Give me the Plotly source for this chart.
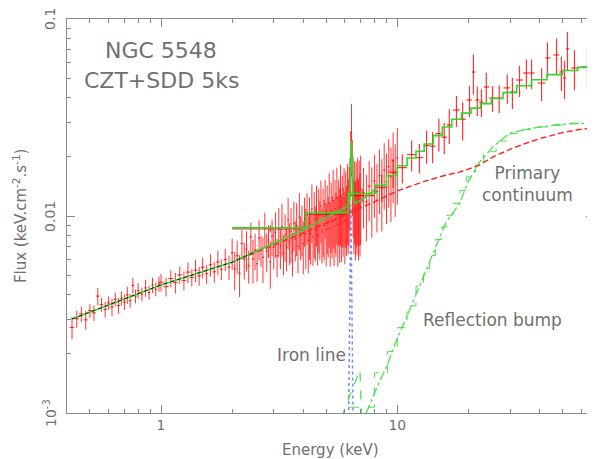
import math
import plotly.graph_objects as go

# ---------------- data ----------------
# SDD fine-binned spectrum, 0.42 - 1 keV
E_lo = [0.42, 0.44, 0.46, 0.48, 0.50, 0.52, 0.54, 0.56, 0.58, 0.60, 0.62, 0.64, 0.66,
        0.68, 0.70, 0.72, 0.74, 0.76, 0.78, 0.80, 0.83, 0.86, 0.89, 0.92, 0.95, 0.98]
F_lo = [0.00272, 0.00301, 0.00318, 0.00297, 0.00331, 0.00322, 0.00392, 0.00355, 0.00336,
        0.00362, 0.00345, 0.00378, 0.00351, 0.00383, 0.00366, 0.00398, 0.00372, 0.00445,
        0.00392, 0.00418, 0.00401, 0.00432, 0.00409, 0.00446, 0.00425, 0.00452]
R_lo = [0.13, 0.10, 0.09, 0.11, 0.08, 0.09, 0.10, 0.08, 0.09, 0.08, 0.10, 0.08, 0.09,
        0.08, 0.09, 0.10, 0.08, 0.09, 0.08, 0.09, 0.08, 0.10, 0.08, 0.09, 0.08, 0.09]
W_lo = 0.01

# SDD, 1 - 2 keV
E_md = [1.00, 1.05, 1.10, 1.15, 1.20, 1.25, 1.30, 1.35, 1.40, 1.45, 1.50, 1.56, 1.62,
        1.68, 1.74, 1.80, 1.87, 1.94]
F_md = [0.00461, 0.00438, 0.00482, 0.00459, 0.00503, 0.00471, 0.00519, 0.00488, 0.00531,
        0.00497, 0.00548, 0.00509, 0.00566, 0.00521, 0.00584, 0.00538, 0.00602, 0.00551]
R_md = [0.10, 0.11, 0.10, 0.12, 0.10, 0.11, 0.12, 0.10, 0.13, 0.11, 0.12, 0.11, 0.13,
        0.12, 0.14, 0.12, 0.13, 0.14]
W_md = 0.028

# SDD, 2 - 7 keV (dense region incl. Fe line)
E_fe = [2.00, 2.05, 2.10, 2.15, 2.20, 2.25, 2.30, 2.35, 2.40, 2.45, 2.50, 2.55, 2.60, 2.65,
        2.70, 2.75, 2.80, 2.85, 2.90, 2.95, 3.00, 3.05, 3.10, 3.15, 3.20, 3.25, 3.30, 3.35,
        3.40, 3.45, 3.50, 3.55, 3.60, 3.65, 3.70, 3.75, 3.80, 3.85, 3.90, 3.95, 4.00, 4.05,
        4.10, 4.15, 4.20, 4.25, 4.30, 4.35, 4.40, 4.45, 4.50, 4.55, 4.60, 4.65, 4.70, 4.75,
        4.80, 4.85, 4.90, 4.95, 5.00, 5.05, 5.10, 5.15, 5.20, 5.25, 5.30, 5.35, 5.40, 5.45,
        5.50, 5.55, 5.60, 5.65, 5.70, 5.75, 5.80, 5.85, 5.90, 5.95, 6.00, 6.05, 6.10, 6.15,
        6.20, 6.25, 6.30, 6.35, 6.40, 6.45, 6.50, 6.55, 6.60, 6.65, 6.70, 6.75, 6.80, 6.85,
        6.90, 6.95, 7.00]
F_fe = [0.00651, 0.00538, 0.00629, 0.00510, 0.00725, 0.00603, 0.00679, 0.00560, 0.00784,
        0.00605, 0.00671, 0.00572, 0.00773, 0.00672, 0.00617, 0.00866, 0.00664, 0.00755,
        0.00585, 0.00792, 0.00697, 0.00828, 0.00628, 0.00857, 0.00706, 0.00887, 0.00649,
        0.00801, 0.00698, 0.00955, 0.00742, 0.00835, 0.00657, 0.00920, 0.00764, 0.00893,
        0.00701, 0.00988, 0.00794, 0.00877, 0.00723, 0.00968, 0.00812, 0.01009, 0.00754,
        0.00919, 0.00810, 0.01085, 0.00786, 0.00964, 0.00853, 0.01061, 0.00800, 0.01011,
        0.00895, 0.01120, 0.00831, 0.00999, 0.00900, 0.01149, 0.00853, 0.01035, 0.00934,
        0.01169, 0.00864, 0.01062, 0.00936, 0.01198, 0.00886, 0.01088, 0.00969, 0.01237,
        0.00906, 0.01113, 0.00981, 0.01265, 0.00927, 0.01149, 0.01003, 0.01228, 0.00948,
        0.01186, 0.01024, 0.01275, 0.01090, 0.01240, 0.01400, 0.01980, 0.02650, 0.01720,
        0.01390, 0.01085, 0.01310, 0.01044, 0.01287, 0.01100, 0.01345, 0.01062, 0.01309,
        0.01130, 0.01368]
R_fe = [0.18, 0.22, 0.19, 0.24, 0.17, 0.21, 0.23, 0.19, 0.18, 0.25, 0.21, 0.19, 0.23, 0.18,
        0.26, 0.20, 0.22, 0.19, 0.27, 0.21,
        0.23, 0.26, 0.22, 0.28, 0.24, 0.30, 0.23, 0.27, 0.25, 0.29, 0.24, 0.31, 0.25, 0.28,
        0.23, 0.30, 0.27, 0.32, 0.25, 0.29,
        0.30, 0.28, 0.34, 0.29, 0.32, 0.35, 0.30, 0.33, 0.29, 0.37, 0.31, 0.34, 0.30, 0.36,
        0.33, 0.35, 0.31, 0.38, 0.34, 0.33,
        0.35, 0.38, 0.34, 0.41, 0.36, 0.39, 0.35, 0.43, 0.37, 0.40, 0.36, 0.42, 0.39, 0.37,
        0.41, 0.44, 0.37, 0.40, 0.38, 0.43,
        0.40, 0.42, 0.39, 0.44, 0.41, 0.43, 0.40, 0.36, 0.40, 0.42, 0.44, 0.41, 0.45, 0.43,
        0.46, 0.42, 0.47, 0.44, 0.46, 0.45, 0.48]
W_fe = 0.025

# SDD, 7 - 10 keV
E_hi = [7.2, 7.4, 7.6, 7.8, 8.0, 8.2, 8.4, 8.6, 8.8, 9.0, 9.2, 9.4, 9.6, 9.8, 10.0]
F_hi = [0.0131, 0.0118, 0.0142, 0.0127, 0.0151, 0.0133, 0.0160, 0.0139, 0.0171, 0.0149,
        0.0178, 0.0158, 0.0191, 0.0165, 0.0197]
R_hi = [0.34, 0.37, 0.34, 0.39, 0.35, 0.38, 0.36, 0.40, 0.37, 0.39, 0.38, 0.41, 0.39, 0.40, 0.42]
W_hi = 0.1

# CZT spectrum (wide bins)
E_czt = [2.9, 5.0, 7.1, 8.6, 9.6, 10.5, 11.5, 12.4, 13.3, 14.1, 15.0, 15.8, 16.6, 17.8, 18.9,
         20.2, 21.0, 21.8, 22.7, 23.8, 25.3, 27.0, 29.2, 30.7, 32.9, 35.2, 37.0, 40.8, 43.2,
         47.2, 49.5, 51.0, 52.5, 56.2, 63.8]
E_czt_lo = [2.0, 4.15, 6.3, 8.1, 9.1, 10.0, 11.0, 12.0, 12.9, 13.7, 14.5, 15.4, 16.2, 17.2,
            18.4, 19.6, 20.7, 21.4, 22.2, 23.2, 24.5, 26.2, 28.1, 30.0, 31.8, 34.1, 36.3,
            39.3, 42.3, 45.8, 48.5, 50.3, 51.8, 54.5, 60.0]
E_czt_hi = [4.0, 6.0, 8.0, 9.1, 10.0, 11.0, 12.0, 12.9, 13.7, 14.5, 15.4, 16.2, 17.1, 18.4,
            19.5, 20.7, 21.4, 22.2, 23.2, 24.5, 26.2, 28.0, 30.0, 31.6, 34.0, 36.2, 38.0,
            42.3, 44.5, 48.5, 50.3, 51.8, 53.5, 58.0, 68.0]
F_czt = [0.0086, 0.0102, 0.0127, 0.0140, 0.0167, 0.0176, 0.0205, 0.0198, 0.0228, 0.0226,
         0.0262, 0.0251, 0.0290, 0.0345, 0.0310, 0.0388, 0.0538, 0.0388, 0.0379, 0.0452,
         0.0397, 0.0397, 0.0447, 0.0426, 0.0490, 0.0532, 0.0532, 0.0473, 0.0634, 0.0657,
         0.0538, 0.0502, 0.0705, 0.0564, 0.0571]
R_czt = [0.04, 0.05, 0.08, 0.16, 0.17, 0.17, 0.18, 0.17, 0.19, 0.18, 0.19, 0.18, 0.20, 0.18,
         0.22, 0.18, 0.23, 0.17, 0.16, 0.18, 0.15, 0.16, 0.17, 0.18, 0.18, 0.17, 0.17, 0.19,
         0.20, 0.21, 0.20, 0.22, 0.22, 0.23, 0.23]

# total model, SDD (smooth)
E_mod = [0.42, 0.5, 0.6, 0.7, 0.8, 1.0, 1.2, 1.5, 2.0, 2.5, 3.0, 3.5, 4.0, 4.5, 5.0, 5.5,
         6.0, 6.2, 6.3, 6.35, 6.4, 6.45, 6.5, 6.6, 7.0, 7.5, 8.0]
F_mod = [0.0030, 0.00325, 0.00353, 0.00379, 0.00403, 0.00447, 0.00479, 0.00521, 0.00583,
         0.00658, 0.00726, 0.00789, 0.0085, 0.00917, 0.0098, 0.01042, 0.01102, 0.01124,
         0.0125, 0.018, 0.024, 0.018, 0.0125, 0.0116, 0.0120, 0.0127, 0.01355]

# total model, CZT (histogram): bin edges and bin values
E_step = [2.0, 4.1, 6.2, 8.1, 9.0, 10.0, 11.0, 12.0, 13.0, 14.2, 15.5, 17.0, 18.7, 20.5,
          22.5, 25.0, 28.0, 32.0, 37.0, 43.0, 50.0, 58.0, 68.0]
F_step = [0.0087, 0.0104, 0.0130, 0.0143, 0.0160, 0.0180, 0.0197, 0.0213, 0.0232, 0.0256,
          0.0283, 0.0310, 0.0333, 0.0353, 0.0372, 0.0395, 0.0423, 0.0458, 0.0492, 0.0522,
          0.0548, 0.0568]

# primary continuum
E_prim = [2.0, 3.0, 4.0, 5.0, 6.0, 7.0, 8.0, 10.0, 13.0, 16.0, 18.3, 22.0, 25.3, 30.0,
          35.0, 41.0, 50.0, 58.0, 68.0]
F_prim = [0.00583, 0.0071, 0.0082, 0.0092, 0.0101, 0.0110, 0.0118, 0.0134, 0.0150, 0.0161,
          0.0167, 0.0180, 0.0199, 0.0218, 0.0234, 0.0249, 0.0265, 0.0274, 0.0281]

# reflection bump
E_refl = [7.39, 8.2, 9.07, 10.0, 10.9, 12.8, 14.6, 16.1, 18.3, 20.0, 22.2, 25.3, 29.8,
          35.0, 41.0, 52.0, 68.0]
F_refl = [0.0010, 0.00135, 0.00175, 0.0024, 0.00303, 0.00484, 0.00697, 0.00933, 0.0115,
          0.0150, 0.0186, 0.0224, 0.0262, 0.0276, 0.0284, 0.0293, 0.0297]
# reflection binned on the CZT grid
E_refl_step = [6.3, 8.0, 9.1, 10.0, 11.0, 12.0, 12.9, 13.7, 14.5, 15.4, 16.2, 17.2, 18.4,
               19.6, 21.4, 23.2, 26.2, 30.0, 34.0, 38.0, 44.5, 53.5, 68.0]
F_refl_step = [0.00107, 0.00160, 0.00205, 0.00272, 0.00350, 0.00440, 0.00540, 0.00630,
               0.00760, 0.00880, 0.01010, 0.01160, 0.01350, 0.01580, 0.01850, 0.02120,
               0.02400, 0.02620, 0.02750, 0.02830, 0.02900, 0.02960]
# reflected Fe line seen through the CZT response
E_refl_fe = [5.8, 6.95, 7.05]
F_refl_fe = [0.00095, 0.00166, 0.00095]

# narrow iron line
E_line = [6.22, 6.30, 6.36, 6.42, 6.50]
F_line = [0.0009, 0.0040, 0.0114, 0.0040, 0.0009]

X_TICKS = [1, 10]
X_TICKTEXT = ["1", "10"]
X_MINOR = [0.4, 0.5, 0.6, 0.7, 0.8, 0.9, 2, 3, 4, 5, 6, 7, 8, 9, 20, 30, 40, 50, 60]
Y_TICKS = [0.001, 0.01, 0.1]
Y_TICKTEXT = ["10<sup>-3</sup>", "0.01", "0.1"]
Y_MINOR = [0.002, 0.003, 0.004, 0.005, 0.006, 0.007, 0.008, 0.009,
           0.02, 0.03, 0.04, 0.05, 0.06, 0.07, 0.08, 0.09]

# ---------------- figure ----------------
RED_BAR = "rgba(255,0,0,0.8)"
GREEN = "#2fd82f"
LGREEN = "rgba(60,220,60,0.9)"
AXC = "#8a8a8a"
TXT = "#707070"
FONT = "DejaVu Sans"

fig = go.Figure()

def add_sdd(E, F, R, W):
    fig.add_trace(go.Scatter(
        x=E, y=F, mode="markers",
        marker=dict(size=1, color="red"),
        error_y=dict(type="data", array=[f * r for f, r in zip(F, R)],
                     color=RED_BAR, thickness=1, width=0),
        error_x=dict(type="data", array=[W] * len(E),
                     color=RED_BAR, thickness=1, width=0),
        showlegend=False, hoverinfo="skip"))

add_sdd(E_lo, F_lo, R_lo, W_lo)
add_sdd(E_md, F_md, R_md, W_md)
add_sdd(E_fe, F_fe, R_fe, W_fe)
add_sdd(E_hi, F_hi, R_hi, W_hi)

fig.add_trace(go.Scatter(
    x=E_czt, y=F_czt, mode="markers",
    marker=dict(size=1, color="red"),
    error_y=dict(type="data", array=[f * r for f, r in zip(F_czt, R_czt)],
                 color="rgba(255,0,0,0.8)", thickness=1.2, width=0),
    error_x=dict(type="data", symmetric=False,
                 array=[h - e for e, h in zip(E_czt, E_czt_hi)],
                 arrayminus=[e - l for e, l in zip(E_czt, E_czt_lo)],
                 color="rgba(255,0,0,0.8)", thickness=1.2, width=0),
    showlegend=False, hoverinfo="skip"))

# iron line (blue dotted)
fig.add_trace(go.Scatter(x=E_line, y=F_line, mode="lines",
                         line=dict(color="#6f8cff", width=1.5, dash="dot"),
                         showlegend=False, hoverinfo="skip"))
# reflection (green dashed)
fig.add_trace(go.Scatter(x=E_refl, y=F_refl, mode="lines",
                         line=dict(color=LGREEN, width=1.3, dash="dashdot"),
                         showlegend=False, hoverinfo="skip"))
fig.add_trace(go.Scatter(x=E_refl_step, y=F_refl_step + [F_refl_step[-1]], mode="lines",
                         line=dict(color=LGREEN, width=1, dash="dash", shape="hv"),
                         showlegend=False, hoverinfo="skip"))
fig.add_trace(go.Scatter(x=E_refl_fe, y=F_refl_fe, mode="lines",
                         line=dict(color=LGREEN, width=1.3, dash="dash"),
                         showlegend=False, hoverinfo="skip"))
# primary continuum (red dashed)
fig.add_trace(go.Scatter(x=E_prim, y=F_prim, mode="lines",
                         line=dict(color="#ff2020", width=1.4, dash="6px,3px"),
                         showlegend=False, hoverinfo="skip"))
# total models
fig.add_trace(go.Scatter(x=E_step, y=F_step + [F_step[-1]], mode="lines",
                         line=dict(color=GREEN, width=1.6, shape="hv"),
                         showlegend=False, hoverinfo="skip"))
fig.add_trace(go.Scatter(x=E_mod, y=F_mod, mode="lines",
                         line=dict(color=GREEN, width=1.6),
                         showlegend=False, hoverinfo="skip"))
fig.add_trace(go.Scatter(x=E_mod[:10], y=F_mod[:10], mode="lines",
                         line=dict(color="#202020", width=1, dash="4px,3px"),
                         showlegend=False, hoverinfo="skip"))

axis_common = dict(
    type="log", showline=True, linecolor=AXC, linewidth=1, mirror="ticks",
    ticks="inside", ticklen=8, tickcolor=AXC, tickwidth=1,
    showgrid=False, zeroline=False, tickmode="array", automargin=False,
    tickfont=dict(family=FONT, size=14, color=TXT),
)

fig.update_xaxes(
    **axis_common,
    range=[math.log10(0.4), math.log10(68)],
    tickvals=X_TICKS, ticktext=X_TICKTEXT,
    minor=dict(tickmode="array", tickvals=X_MINOR, ticks="inside", ticklen=4,
               tickcolor=AXC, showgrid=False),
    ticklabelstandoff=-1,
)
fig.update_yaxes(
    **axis_common,
    range=[-3, -1],
    tickvals=Y_TICKS, showticklabels=False,
    minor=dict(tickmode="array", tickvals=Y_MINOR, ticks="inside", ticklen=4,
               tickcolor=AXC, showgrid=False),
)

# y tick labels (rotated, as in the original)
for v, t in zip(Y_TICKS, Y_TICKTEXT):
    fig.add_annotation(text=t, xref="paper", yref="y", x=-0.0323, y=math.log10(v),
                       textangle=-90, showarrow=False, xanchor="center", yanchor="middle",
                       font=dict(family=FONT, size=14, color=TXT))

def note(text, x, y, size, angle=0):
    fig.add_annotation(text=text, xref="paper", yref="paper", x=x, y=y, textangle=angle,
                       showarrow=False, xanchor="center", yanchor="middle",
                       font=dict(family=FONT, size=size, color=TXT))

# axis titles
note("Energy (keV)", 0.5, -0.094, 15)
note("Flux (keV.cm<sup>-2</sup>.s<sup>-1</sup>)", -0.089, 0.5, 15, -90)

# labels inside the plot
note("NGC 5548", 0.178, 0.921, 22)
note("CZT+SDD 5ks", 0.180, 0.845, 22)
note("Primary<br>continuum", 0.873, 0.581, 17)
note("Reflection bump", 0.807, 0.236, 17)
note("Iron line", 0.464, 0.147, 17)

# page body has an 8 px margin: figure is shrunk so the plot frame lands in place
fig.update_layout(
    width=587, height=451,
    margin=dict(l=59, r=1, t=11, b=46),
    paper_bgcolor="white", plot_bgcolor="white",
    showlegend=False,
)

fig.write_html("out.html")
